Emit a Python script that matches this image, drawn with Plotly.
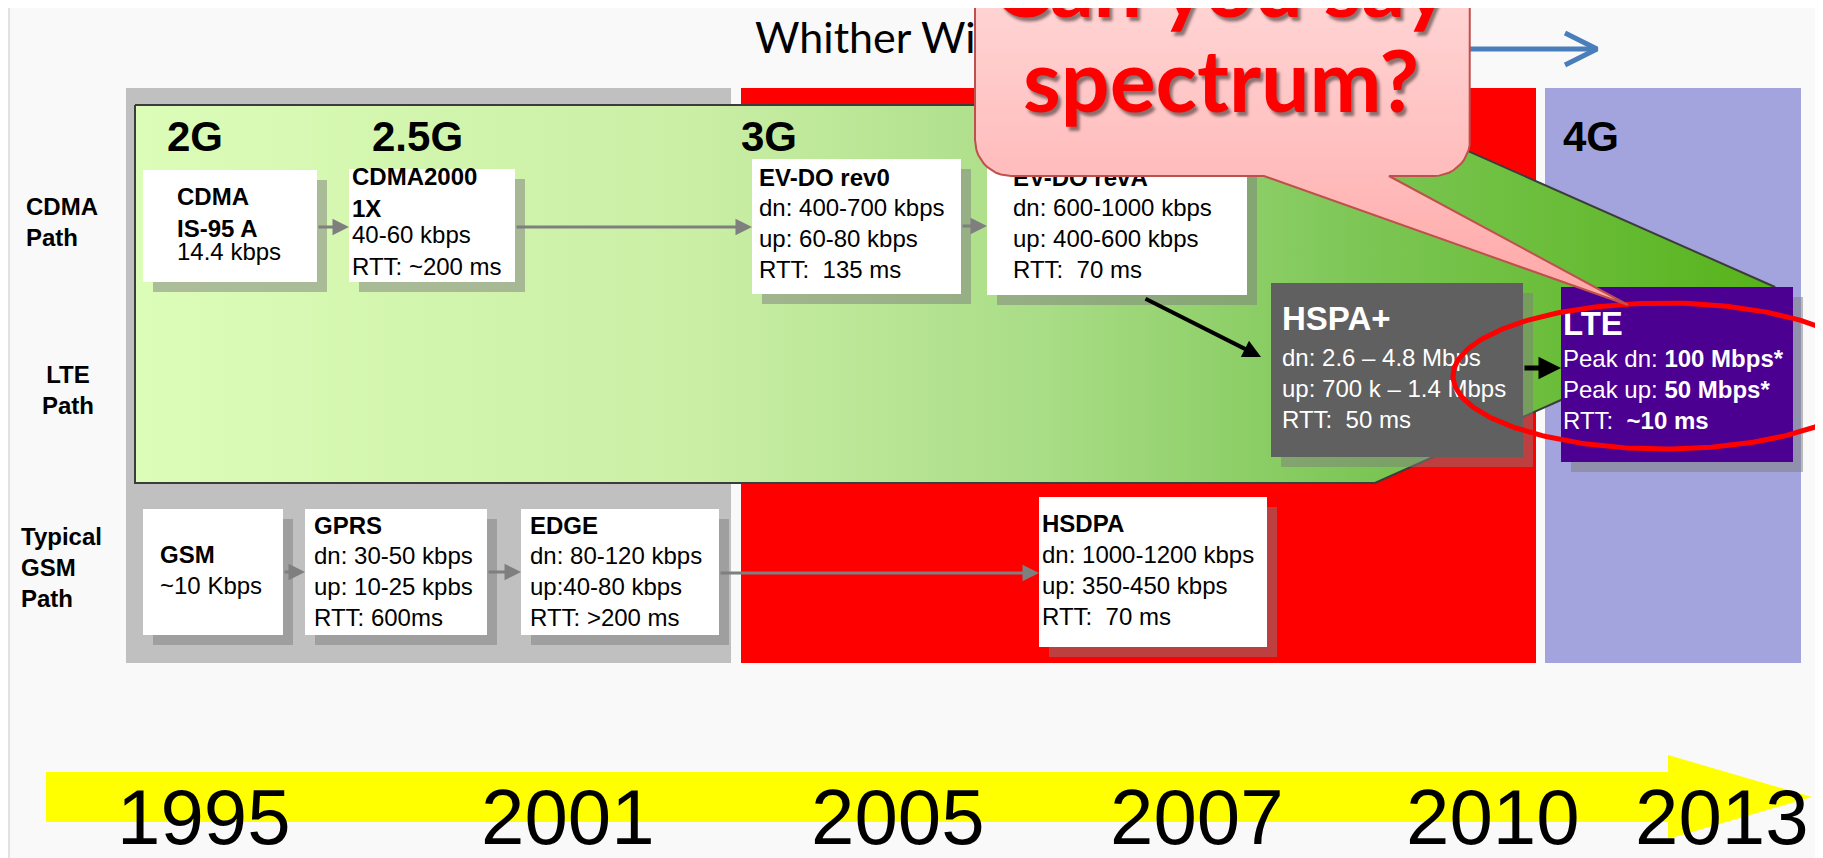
import numpy as np
import plotly.graph_objects as go

W, H = 1823, 858
OFF = 8  # the page body margin: figure starts 8px in from the window corner
ARIAL = "Liberation Sans, Arial, sans-serif"
CALIBRI = "Lato, Carlito, Calibri, sans-serif"

# ---------------- data ----------------
years = ["1995", "2001", "2005", "2007", "2010", "2013"]
year_x = [204, 568, 898, 1197, 1493, 1722]

generations = ["2G", "2.5G", "3G", "4G"]
gen_x = [165, 370, 739, 1561]

row_labels = ["CDMA<br>Path", "LTE<br>Path", "Typical<br>GSM<br>Path"]

box_names = ["CDMA IS-95 A", "CDMA2000 1X", "EV-DO rev0", "EV-DO revA", "HSDPA",
             "GSM", "GPRS", "EDGE", "HSPA+", "LTE"]
box_titles = ["CDMA<br>IS-95 A", "CDMA2000<br>1X", "EV-DO rev0", "EV-DO revA", "HSDPA",
              "GSM", "GPRS", "EDGE", "HSPA+", "LTE"]
box_bodies = [
    ["14.4 kbps"],
    ["40-60 kbps", "RTT: ~200 ms"],
    ["dn: 400-700 kbps", "up: 60-80 kbps", "RTT:  135 ms"],
    ["dn: 600-1000 kbps", "up: 400-600 kbps", "RTT:  70 ms"],
    ["dn: 1000-1200 kbps", "up: 350-450 kbps", "RTT:  70 ms"],
    ["~10 Kbps"],
    ["dn: 30-50 kbps", "up: 10-25 kpbs", "RTT: 600ms"],
    ["dn: 80-120 kbps", "up:40-80 kbps", "RTT: >200 ms"],
    ["dn: 2.6 \u2013 4.8 Mbps", "up: 700 k \u2013 1.4 Mbps", "RTT:  50 ms"],
    ["Peak dn: <b>100 Mbps*</b>", "Peak up: <b>50 Mbps*</b>", "RTT:  <b>~10 ms</b>"],
]

title_text = "Whither Wireless?"
callout_lines = ["Can you say", "spectrum?"]

# ---------------- layout geometry (window pixels) ----------------
box_geom = {
    "CDMA IS-95 A": dict(r=(143, 170, 317, 282), tx=177, ty=215, by=254),
    "CDMA2000 1X":  dict(r=(349, 169, 515, 282), tx=352, ty=195, by=253),
    "EV-DO rev0":   dict(r=(752, 159, 961, 294), tx=759, ty=180, by=241),
    "EV-DO revA":   dict(r=(987, 159, 1247, 295), tx=1013, ty=180, by=241),
    "HSDPA":        dict(r=(1039, 497, 1267, 647), tx=1042, ty=526, by=588),
    "GSM":          dict(r=(143, 509, 283, 635), tx=160, ty=557, by=588),
    "GPRS":         dict(r=(305, 509, 487, 635), tx=314, ty=528, by=589),
    "EDGE":         dict(r=(521, 509, 719, 635), tx=530, ty=528, by=589),
    "HSPA+":        dict(r=(1271, 283, 1523, 457), tx=1282, ty=322, by=391,
                         fill="#606060", fc="white", ts=33),
    "LTE":          dict(r=(1561, 287, 1793, 462), tx=1563, ty=327, by=392,
                         fill="#4b0091", fc="white", ts=33),
}
SH = 10  # shadow offset

fig = go.Figure()

# ---------------- background regions ----------------
shapes = [
    dict(type="line", x0=9, y0=0, x1=9, y1=H, line=dict(color="#e2e2e2", width=2), layer="below"),
    dict(type="rect", x0=126, y0=88, x1=731, y1=663, fillcolor="#c0c0c0", line_width=0, layer="below"),
    dict(type="rect", x0=741, y0=88, x1=1536, y1=663, fillcolor="#ff0000", line_width=0, layer="below"),
    dict(type="rect", x0=1545, y0=88, x1=1801, y1=663, fillcolor="#a3a3dd", line_width=0, layer="below"),
    dict(type="path",
         path="M 46 772 L 1668 772 L 1668 755 L 1812 797 L 1668 839 L 1668 822 L 46 822 Z",
         fillcolor="#ffff00", line_width=0, layer="below"),
]

# ---------------- green path polygon ----------------
gx = [135, 1364, 1775, 1561, 1375, 135, 135]
gy = [105, 105, 287, 400, 483, 483, 105]
fig.add_trace(go.Scatter(
    x=gx, y=gy, mode="lines", fill="toself",
    fillgradient=dict(type="horizontal",
                      colorscale=[[0, "#dcfdb8"], [0.35, "#c9eea4"], [0.55, "#aadd87"],
                                  [0.75, "#7cc655"], [1, "#56b31a"]]),
    line=dict(color="#3c3c3c", width=2), hoverinfo="skip"))


def rect_xy(rects):
    xs, ys = [], []
    for (x0, y0, x1, y1) in rects:
        xs += [x0, x1, x1, x0, x0, None]
        ys += [y0, y0, y1, y1, y0, None]
    return xs, ys


# shadows
sx, sy = rect_xy([(g["r"][0] + SH, g["r"][1] + SH, g["r"][2] + SH, g["r"][3] + SH)
                  for g in box_geom.values()])
fig.add_trace(go.Scatter(x=sx, y=sy, mode="lines", fill="toself",
                         fillcolor="rgba(125,125,125,0.5)", line_width=0, hoverinfo="skip"))

# boxes
for fillc in ["white", "#606060", "#4b0091"]:
    rects = [g["r"] for g in box_geom.values() if g.get("fill", "white") == fillc]
    bx, by = rect_xy(rects)
    fig.add_trace(go.Scatter(x=bx, y=by, mode="lines", fill="toself", fillcolor=fillc,
                             line_width=0, hoverinfo="skip"))

# box texts
for name, title, body in zip(box_names, box_titles, box_bodies):
    g = box_geom[name]
    fc = g.get("fc", "black")
    fig.add_trace(go.Scatter(
        x=[g["tx"]], y=[g["ty"]], mode="text",
        text=["<b>" + title.replace("<br>", "</b><br><b>") + "</b>"],
        textposition="middle right",
        textfont=dict(family=ARIAL, size=g.get("ts", 24), color=fc), hoverinfo="skip"))
    fig.add_trace(go.Scatter(
        x=[g["tx"]], y=[g["by"]], mode="text", text=["<br>".join(body)],
        textposition="middle right",
        textfont=dict(family=ARIAL, size=24, color=fc), hoverinfo="skip"))

# blue arrow next to the title
fig.add_trace(go.Scatter(x=[1300, 1595, None, 1565, 1597, 1565],
                         y=[49, 49, None, 33, 49, 65], mode="lines",
                         line=dict(color="#4a7ebb", width=5), hoverinfo="skip"))
# title text
fig.add_trace(go.Scatter(x=[755], y=[42], mode="text", text=[title_text],
                         textposition="middle right",
                         textfont=dict(family=CALIBRI, size=43, color="black"), hoverinfo="skip"))

# red ellipse
t = np.linspace(0, 2 * np.pi, 300)
ecx, ecy, ea, eb = 1664, 376, 211, 73
fig.add_trace(go.Scatter(x=ecx + ea * np.cos(t), y=ecy + eb * np.sin(t), mode="lines",
                         line=dict(color="#ff0000", width=5), hoverinfo="skip"))

# callout bubble
cx0, cy0, cx1, cy1, cr = 975, -260, 1470, 176, 36
px0, px1, tipx, tipy = 1264, 1389, 1628, 305


def arc(cx, cy, a0, a1):
    aa = np.radians(np.linspace(a0, a1, 12))
    return list(cx + cr * np.cos(aa)), list(cy + cr * np.sin(aa))


bxs, bys = [cx0 + cr], [cy0]
for (ccx, ccy, a0, a1) in [(cx1 - cr, cy0 + cr, -90, 0), (cx1 - cr, cy1 - cr, 0, 90)]:
    ax_, ay_ = arc(ccx, ccy, a0, a1)
    bxs += ax_
    bys += ay_
bxs += [px1, tipx, px0]
bys += [cy1, tipy, cy1]
for (ccx, ccy, a0, a1) in [(cx0 + cr, cy1 - cr, 90, 180), (cx0 + cr, cy0 + cr, 180, 270)]:
    ax_, ay_ = arc(ccx, ccy, a0, a1)
    bxs += ax_
    bys += ay_
bxs.append(bxs[0])
bys.append(bys[0])
fig.add_trace(go.Scatter(
    x=bxs, y=bys, mode="lines", fill="toself",
    fillgradient=dict(type="vertical", start=0, stop=305,
                      colorscale=[[0, "#ffd4d4"], [0.55, "#ffbdbd"], [1, "#ffa6a6"]]),
    line=dict(color="#c0504d", width=2), hoverinfo="skip"))

# ---------------- annotations ----------------
X0, X1 = OFF, W          # visible x range (window pixels)
Y0, Y1 = H, OFF          # visible y range (reversed)


def px(x):
    return (x - X0) / (X1 - X0)


def py(y):
    return (Y0 - y) / (Y0 - Y1)


ann = []
# callout text (paper coords so the partly hidden top line still draws)
for txt, yy in zip(callout_lines, [-16, 78]):
    ann.append(dict(x=px(1221), y=py(yy), xref="paper", yref="paper",
                    text="<b>" + txt + "</b>", showarrow=False,
                    xanchor="center", yanchor="middle",
                    font=dict(family=CALIBRI, size=86, color="#ff0000",
                              shadow="3px 4px 3px rgba(0,0,0,0.45)")))
# generation labels
for gtxt, gxx in zip(generations, gen_x):
    ann.append(dict(x=gxx, y=136, text="<b>" + gtxt + "</b>", showarrow=False,
                    xanchor="left", yanchor="middle",
                    font=dict(family=ARIAL, size=42, color="black")))
# row labels
row_pos = [(24, 222, "left"), (68, 390, "center"), (19, 567, "left")]
for lbl, (lx, ly, al) in zip(row_labels, row_pos):
    ann.append(dict(x=lx, y=ly, text="<b>" + lbl.replace("<br>", "</b><br><b>") + "</b>",
                    showarrow=False, xanchor=al, yanchor="middle", align=al,
                    font=dict(family=ARIAL, size=24, color="black")))
# years
for yt, yx in zip(years, year_x):
    ann.append(dict(x=yx, y=817, text=yt, showarrow=False, xanchor="center", yanchor="middle",
                    font=dict(family=ARIAL, size=78, color="black")))

# arrows: (tail x, tail y, head x, head y, colour, width)
arrows = [
    (317, 227, 349, 227, "#7f7f7f", 3),
    (515, 227, 752, 227, "#7f7f7f", 3),
    (961, 226, 987, 226, "#7f7f7f", 3),
    (283, 572, 305, 572, "#7f7f7f", 3),
    (487, 572, 521, 572, "#7f7f7f", 3),
    (719, 573, 1039, 573, "#7f7f7f", 3),
    (1144, 298, 1261, 357, "black", 4),
    (1523, 368, 1561, 368, "black", 5),
]
for (tx_, ty_, hx, hy, col, wd) in arrows:
    ann.append(dict(x=hx, y=hy, ax=tx_, ay=ty_, xref="x", yref="y", axref="x", ayref="y",
                    text="", showarrow=True, arrowhead=2, arrowsize=1.1 if wd < 4 else 0.9,
                    arrowwidth=wd, arrowcolor=col, standoff=0, startstandoff=0))

fig.update_layout(
    width=W - OFF, height=H - OFF, autosize=False,
    margin=dict(l=0, r=0, t=0, b=0),
    paper_bgcolor="#f9f9f9", plot_bgcolor="#f9f9f9",
    showlegend=False,
    xaxis=dict(range=[X0, X1], visible=False, fixedrange=True),
    yaxis=dict(range=[Y0, Y1], visible=False, fixedrange=True),
    shapes=shapes, annotations=ann,
)

fig.write_html("out.html")
